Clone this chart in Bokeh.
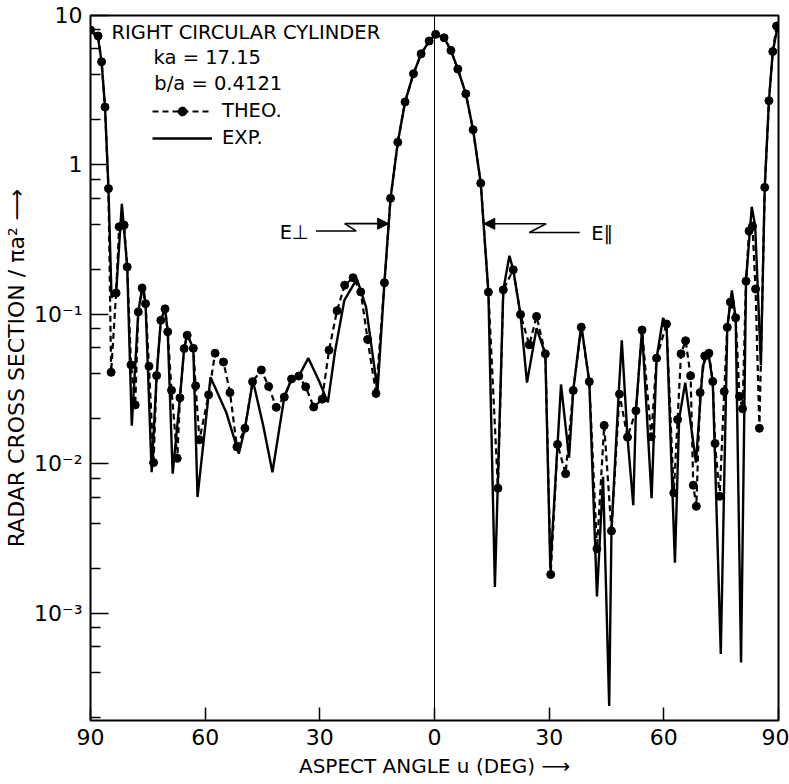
from bokeh.plotting import figure
from bokeh.models import (Range1d, FixedTicker, CustomJSTickFormatter, Span, Label,
                          Legend, LegendItem, Arrow, NormalHead)
from bokeh.embed import file_html
from bokeh.resources import INLINE

# ---------------- data ----------------
theo_u = [-90.0, -88.0, -87.1, -86.2, -85.3, -84.6, -83.3, -82.5, -81.2, -80.4,
          -79.4, -78.3, -77.5, -76.5, -75.6, -74.7, -73.5, -72.7, -71.6, -70.5,
          -69.8, -68.8, -67.3, -66.6, -65.5, -64.7, -63.1, -62.5, -61.5, -59.1,
          -57.4, -55.2, -53.5, -51.7, -49.6, -47.6, -45.3, -43.4, -41.4, -39.3,
          -37.4, -35.5, -33.7, -31.6, -29.4, -27.6, -25.5, -23.5, -21.3, -19.3,
          -17.5, -15.3, -13.1, -11.5, -9.6, -7.7, -5.5, -3.5, -1.4, 0.3,
          2.5, 4.3, 6.1, 8.2, 10.1, 12.1, 14.1, 16.6, 18.0, 20.6,
          22.5, 24.8, 26.7, 29.0, 30.4, 32.2, 34.3, 36.3, 38.4, 40.5,
          42.5, 44.4, 46.3, 48.4, 50.5, 52.7, 54.3, 56.7, 58.1, 60.7,
          62.6, 63.6, 64.5, 65.7, 67.0, 67.7, 68.5, 69.5, 70.7, 71.8,
          72.8, 73.4, 74.6, 75.8, 76.6, 77.4, 78.8, 79.8, 80.6, 81.5,
          82.3, 83.2, 84.0, 85.0, 86.4, 87.5, 88.5, 89.5]
theo_v = [8.0, 7.3, 4.9, 2.44, 0.695, 0.041, 0.139, 0.386, 0.396, 0.208,
          0.046, 0.0248, 0.104, 0.150, 0.118, 0.045, 0.0102, 0.039, 0.0914, 0.109,
          0.0766, 0.0311, 0.0109, 0.0277, 0.0591, 0.0726, 0.0593, 0.0333, 0.0145, 0.029,
          0.055, 0.048, 0.030, 0.0130, 0.0173, 0.0355, 0.0425, 0.033, 0.0239, 0.028,
          0.037, 0.0387, 0.0328, 0.024, 0.0271, 0.0577, 0.106, 0.157, 0.176, 0.1415,
          0.068, 0.0296, 0.163, 0.598, 1.42, 2.64, 4.08, 5.54, 6.75, 7.48,
          7.1, 5.84, 4.38, 2.99, 1.72, 0.755, 0.141, 0.00687, 0.146, 0.199,
          0.100, 0.0626, 0.097, 0.0545, 0.00182, 0.0135, 0.0086, 0.031, 0.0822, 0.0355,
          0.00271, 0.0181, 0.00356, 0.0293, 0.0151, 0.0227, 0.0787, 0.0152, 0.051, 0.0863,
          0.0064, 0.0198, 0.0545, 0.0667, 0.0389, 0.0072, 0.0052, 0.030, 0.0528, 0.055,
          0.0356, 0.0137, 0.00607, 0.0305, 0.082, 0.121, 0.0949, 0.0283, 0.0234, 0.167,
          0.362, 0.39, 0.148, 0.0173, 0.708, 2.69, 5.74, 8.5]

exp_u = [-90.0, -88.0, -87.1, -86.2, -85.3, -84.5, -83.3, -81.8, -80.4, -79.2,
         -77.5, -76.3, -75.6, -74.0, -72.7, -71.6, -70.5, -69.8, -68.5, -66.6,
         -65.5, -64.7, -63.1, -62.0, -59.1, -58.6, -54.5, -51.2, -49.6, -47.5,
         -44.8, -42.4, -39.3, -37.4, -35.5, -33.0, -30.2, -27.9, -26.0, -23.6,
         -20.3, -17.9, -14.9, -13.1, -11.5, -9.6, -7.7, -5.5, -3.5, -1.4,
         0.3, 2.5, 4.3, 6.1, 8.2, 10.1, 12.1, 14.1, 15.8, 18.0,
         19.6, 20.6, 22.5, 24.2, 26.7, 29.0, 30.3, 32.2, 33.1, 35.2,
         36.3, 38.4, 40.5, 42.5, 44.1, 45.7, 46.3, 48.2, 49.0, 50.5,
         52.0, 52.7, 54.3, 56.8, 58.1, 59.8, 60.7, 62.9, 64.0, 65.6,
         68.4, 70.2, 71.6, 72.8, 74.9, 76.6, 77.8, 78.8, 80.2, 81.5,
         83.0, 83.9, 85.4, 86.4, 87.5, 88.5, 90.0]
exp_v = [8.0, 7.0, 4.9, 2.44, 0.695, 0.13, 0.139, 0.55, 0.21, 0.018,
         0.104, 0.16, 0.118, 0.0088, 0.039, 0.0914, 0.11, 0.0766, 0.0086, 0.0277,
         0.059, 0.074, 0.059, 0.006, 0.029, 0.038, 0.0222, 0.0117, 0.0173, 0.036,
         0.018, 0.0088, 0.028, 0.037, 0.0387, 0.051, 0.0359, 0.0258, 0.057, 0.124,
         0.173, 0.112, 0.031, 0.163, 0.598, 1.42, 2.64, 4.08, 5.54, 6.75,
         7.48, 7.1, 5.84, 4.38, 2.99, 1.72, 0.755, 0.141, 0.0015, 0.146,
         0.247, 0.199, 0.100, 0.035, 0.081, 0.0545, 0.002, 0.0135, 0.034, 0.011,
         0.031, 0.085, 0.0355, 0.0013, 0.0082, 0.00024, 0.0036, 0.03, 0.067, 0.0151,
         0.0053, 0.0227, 0.079, 0.0059, 0.051, 0.0946, 0.086, 0.00218, 0.02, 0.035,
         0.0102, 0.045, 0.056, 0.0356, 0.000535, 0.082, 0.145, 0.0949, 0.00047, 0.167,
         0.525, 0.39, 0.0458, 0.708, 2.69, 5.74, 9.0]

x_ticks = [-90, -60, -30, 0, 30, 60, 90]
x_tick_labels = ["90", "60", "30", "0", "30", "60", "90"]
y_ticks = [1e-3, 1e-2, 1e-1, 1, 10]
y_tick_labels = ["10\u207b\u00b3", "10\u207b\u00b2", "10\u207b\u00b9", "1", "10"]
y_minor = [2e-4, 4e-4, 6e-4, 8e-4, 2e-3, 4e-3, 6e-3, 8e-3,
           2e-2, 4e-2, 6e-2, 8e-2, 0.2, 0.4, 0.6, 0.8, 2, 4, 6, 8]

FONT = "DejaVu Sans"

p = figure(width=789, height=784, x_range=Range1d(-90, 90), y_range=Range1d(1.92e-4, 10),
           y_axis_type="log", output_backend="svg", toolbar_location=None,
           min_border_left=90, min_border_right=11, min_border_top=15, min_border_bottom=64)
p.grid.visible = False
p.outline_line_color = "black"
p.outline_line_width = 2
p.background_fill_color = "white"
p.border_fill_color = "white"

# x axis
xa = p.xaxis[0]
xa.ticker = FixedTicker(ticks=x_ticks)
xa.formatter = CustomJSTickFormatter(args=dict(vals=x_ticks, labs=x_tick_labels), code="""
let best = 0;
for (let i = 0; i < vals.length; i++) { if (Math.abs(vals[i]-tick) < Math.abs(vals[best]-tick)) best = i; }
return labs[best];
""")
xa.axis_label = "ASPECT ANGLE u (DEG) \u27f6"
xa.major_tick_in = 13
xa.major_tick_out = 0
xa.minor_tick_line_color = None
xa.axis_line_color = None
xa.major_tick_line_width = 1.5
xa.major_label_standoff = 8
xa.axis_label_standoff = 6
xa.axis_label_text_font_size = "20px"

# y axis
ya = p.yaxis[0]
ya.ticker = FixedTicker(ticks=y_ticks, minor_ticks=y_minor)
ya.formatter = CustomJSTickFormatter(args=dict(vals=y_ticks, labs=y_tick_labels), code="""
let best = 0;
for (let i = 0; i < vals.length; i++) { if (Math.abs(Math.log10(vals[i])-Math.log10(tick)) < Math.abs(Math.log10(vals[best])-Math.log10(tick))) best = i; }
return labs[best];
""")
ya.axis_label = "RADAR CROSS SECTION / \u03c0a\u00b2 \u27f6"
ya.major_tick_in = 18
ya.major_tick_out = 0
ya.minor_tick_in = 10
ya.minor_tick_out = 0
ya.axis_line_color = None
ya.major_tick_line_width = 1.5
ya.minor_tick_line_width = 1.5
ya.major_label_standoff = 8
ya.axis_label_standoff = 2
ya.axis_label_text_font_size = "22px"

for ax in (xa, ya):
    ax.major_label_text_font = FONT
    ax.major_label_text_font_size = "22px"
    ax.major_label_text_color = "black"
    ax.axis_label_text_font = FONT
    ax.axis_label_text_font_style = "normal"
    ax.axis_label_text_color = "black"
    ax.major_tick_line_color = "black"

# zero line
p.add_layout(Span(location=0, dimension="height", line_color="black", line_width=1))

# curves
r_theo_line = p.line(theo_u, theo_v, line_color="black", line_width=2.2, line_dash="6 4")
r_theo_pts = p.scatter(theo_u, theo_v, size=8, fill_color="black", line_color="black")
r_exp = p.line(exp_u, exp_v, line_color="black", line_width=2.4)

legend = Legend(items=[LegendItem(label="THEO.", renderers=[r_theo_line, r_theo_pts]),
                       LegendItem(label="EXP.", renderers=[r_exp])],
                location=(62, 571), orientation="vertical")
legend.label_text_font = FONT
legend.label_text_font_size = "19.5px"
legend.label_text_color = "black"
legend.glyph_width = 60
legend.glyph_height = 22
legend.label_standoff = 10
legend.spacing = 4
legend.padding = 0
legend.margin = 0
legend.border_line_color = None
legend.background_fill_alpha = 0
p.add_layout(legend)

# text annotations
def add_text(txt, x, y):
    p.add_layout(Label(x=x, y=y, text=txt, text_font=FONT, text_font_size="19.5px",
                       text_color="black", text_baseline="middle", text_align="left"))

add_text("RIGHT CIRCULAR CYLINDER", -84.5, 7.7)
add_text("ka = 17.15", -73.5, 5.24)
add_text("b/a = 0.4121", -73.3, 3.51)
add_text("E\u22a5", -40.5, 0.353)
add_text("E\u2225", 41.0, 0.348)

# leader lines with arrows
p.line([-31.0, -20.5, -23.5], [0.362, 0.362, 0.405], line_color="black", line_width=1.6)
p.add_layout(Arrow(x_start=-23.5, y_start=0.405, x_end=-12.0, y_end=0.405,
                   line_color="black", line_width=1.6,
                   end=NormalHead(size=11, fill_color="black", line_color="black")))
p.line([38.0, 24.8, 29.2], [0.353, 0.353, 0.404], line_color="black", line_width=1.6)
p.add_layout(Arrow(x_start=29.2, y_start=0.404, x_end=12.9, y_end=0.404,
                   line_color="black", line_width=1.6,
                   end=NormalHead(size=11, fill_color="black", line_color="black")))

open("out.html", "w").write(file_html(p, INLINE))
